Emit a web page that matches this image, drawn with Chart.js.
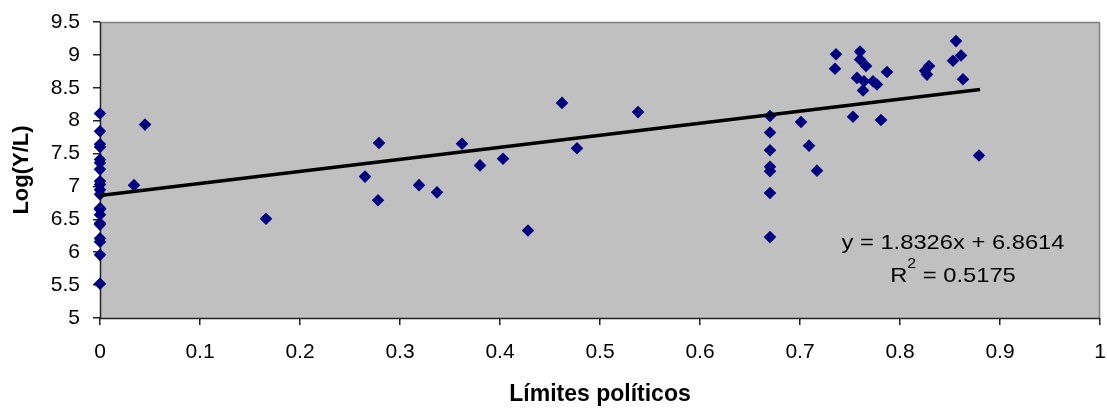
<!DOCTYPE html>
<html>
<head>
<meta charset="utf-8">
<script src="https://cdn.jsdelivr.net/npm/chart.js@4/dist/chart.umd.min.js"></script>
<style>
  html, body { margin: 0; padding: 0; background: #ffffff; }
  #wrap { width: 1107px; height: 409px; position: relative; }
</style>
</head>
<body>
<div id="wrap"><canvas id="c" width="1107" height="409"></canvas></div>
<script>
// ---- data ----
const xValues = [
  0, 0, 0, 0, 0, 0, 0, 0, 0, 0, 0, 0, 0, 0, 0, 0, 0, 0, 0, 0,
  0.034, 0.045, 0.166, 0.265, 0.279, 0.278, 0.319, 0.337, 0.362, 0.380,
  0.403, 0.428, 0.462, 0.477, 0.538,
  0.67, 0.67, 0.67, 0.67, 0.67, 0.67, 0.67,
  0.701, 0.709, 0.717, 0.736, 0.735, 0.753, 0.760, 0.760, 0.766, 0.757,
  0.764, 0.763, 0.773, 0.777, 0.781, 0.787, 0.825, 0.827, 0.829, 0.856,
  0.853, 0.861, 0.863, 0.879
];
const yValues = [
  8.11, 7.84, 7.64, 7.60, 7.41, 7.36, 7.26, 7.08, 7.03, 6.95,
  6.88, 6.67, 6.65, 6.57, 6.44, 6.42, 6.21, 6.16, 5.96, 5.52,
  7.02, 7.94, 6.51, 7.15, 7.66, 6.79, 7.02, 6.91, 7.65, 7.32,
  7.42, 6.33, 8.27, 7.58, 8.13,
  8.07, 7.82, 7.55, 7.30, 7.23, 6.90, 6.23,
  7.98, 7.62, 7.24, 9.01, 8.79, 8.06, 9.05, 8.93, 8.83, 8.65,
  8.60, 8.46, 8.60, 8.55, 8.01, 8.74, 8.76, 8.70, 8.83, 9.21,
  8.91, 8.99, 8.63, 7.47
];
const trendX = [0, 0.88];
const trendY = [6.8614, 8.4741];
const xTickLabels = ['0', '0.1', '0.2', '0.3', '0.4', '0.5', '0.6', '0.7', '0.8', '0.9', '1'];
const yTickLabels = ['5', '5.5', '6', '6.5', '7', '7.5', '8', '8.5', '9', '9.5'];
const equationText = 'y = 1.8326x + 6.8614';
const r2Prefix = 'R';
const r2Sup = '2';
const r2Value = ' = 0.5175';
const xTitle = 'Límites políticos';
const yTitle = 'Log(Y/L)';

const FONT = 'Arial, "Liberation Sans", sans-serif';

const points = xValues.map((x, i) => ({ x: x, y: yValues[i] }));
const trend = trendX.map((x, i) => ({ x: x, y: trendY[i] }));

const plotBg = {
  id: 'plotBg',
  beforeDatasetsDraw(chart) {
    const { ctx, chartArea: a } = chart;
    ctx.save();
    ctx.fillStyle = '#C0C0C0';
    ctx.fillRect(a.left, a.top, a.right - a.left, a.bottom - a.top);
    ctx.strokeStyle = '#808080';
    ctx.lineWidth = 1.5;
    ctx.beginPath();
    ctx.moveTo(a.left, a.top + 0.5);
    ctx.lineTo(a.right - 0.5, a.top + 0.5);
    ctx.lineTo(a.right - 0.5, a.bottom);
    ctx.stroke();
    ctx.strokeStyle = '#222222';
    ctx.lineWidth = 1.5;
    ctx.beginPath();
    ctx.moveTo(a.left + 0.5, a.top);
    ctx.lineTo(a.left + 0.5, a.bottom + 0.5);
    ctx.lineTo(a.right, a.bottom + 0.5);
    ctx.stroke();
    ctx.restore();
  }
};

const eqLabel = {
  id: 'eqLabel',
  afterDatasetsDraw(chart) {
    const { ctx } = chart;
    const cx = 953;
    const sx = 1.13;
    ctx.save();
    ctx.fillStyle = '#000000';
    ctx.textBaseline = 'middle';
    ctx.translate(cx, 0);
    ctx.scale(sx, 1);
    ctx.font = '21px ' + FONT;
    ctx.textAlign = 'center';
    ctx.fillText(equationText, 0, 243);
    const wR = ctx.measureText(r2Prefix).width;
    const wV = ctx.measureText(r2Value).width;
    ctx.font = '14px ' + FONT;
    const wS = ctx.measureText(r2Sup).width;
    const total = wR + wS + wV;
    const x0 = -total / 2;
    ctx.textAlign = 'left';
    ctx.font = '21px ' + FONT;
    ctx.fillText(r2Prefix, x0, 276);
    ctx.font = '14px ' + FONT;
    ctx.fillText(r2Sup, x0 + wR, 264);
    ctx.font = '21px ' + FONT;
    ctx.fillText(r2Value, x0 + wR + wS, 276);
    ctx.restore();
  }
};

function zeroPad(scale) {
  scale.paddingLeft = 0;
  scale.paddingRight = 0;
  scale.paddingTop = 0;
  scale.paddingBottom = 0;
}

new Chart(document.getElementById('c'), {
  type: 'scatter',
  data: {
    datasets: [
      {
        type: 'line',
        data: trend,
        borderColor: '#000000',
        borderWidth: 3.5,
        pointRadius: 0,
        showLine: true,
        fill: false,
        clip: false,
        order: 0
      },
      {
        data: points,
        pointStyle: 'rectRot',
        pointRadius: 6.3,
        pointHoverRadius: 6.3,
        backgroundColor: '#000080',
        borderColor: '#000080',
        borderWidth: 0,
        clip: false,
        order: 1
      }
    ]
  },
  plugins: [plotBg, eqLabel],
  options: {
    responsive: false,
    animation: false,
    devicePixelRatio: 1,
    layout: { padding: { left: 0, right: 7, top: 22, bottom: 0 } },
    plugins: { legend: { display: false }, tooltip: { enabled: false } },
    scales: {
      x: {
        type: 'linear',
        min: 0, max: 1,
        afterFit(scale) { scale.height = 91; zeroPad(scale); },
        afterBuildTicks(scale) {
          scale.ticks = xTickLabels.map((t, i) => ({ value: i / 10 }));
        },
        ticks: {
          autoSkip: false,
          maxRotation: 0,
          color: '#000000',
          font: { family: FONT, size: 21 },
          padding: 15,
          callback: (v, i) => xTickLabels[i]
        },
        grid: { drawOnChartArea: false, drawTicks: true, tickLength: 7, color: '#222222', lineWidth: 1.5 },
        border: { display: false },
        title: {
          display: true, text: xTitle, color: '#000000',
          font: { family: FONT, size: 23, weight: 'bold' },
          padding: { top: 0, bottom: 1 }
        }
      },
      y: {
        type: 'linear',
        min: 5, max: 9.5,
        afterFit(scale) { scale.width = 100; zeroPad(scale); },
        afterBuildTicks(scale) {
          scale.ticks = yTickLabels.map((t, i) => ({ value: 5 + i * 0.5 }));
        },
        ticks: {
          autoSkip: false,
          color: '#000000',
          font: { family: FONT, size: 21 },
          padding: 13,
          callback: (v, i) => yTickLabels[i]
        },
        grid: { drawOnChartArea: false, drawTicks: true, tickLength: 7, color: '#222222', lineWidth: 1.5 },
        border: { display: false },
        title: {
          display: true, text: yTitle, color: '#000000',
          font: { family: FONT, size: 22, weight: 'bold' },
          padding: { top: 9, bottom: 0 }
        }
      }
    }
  }
});
</script>
</body>
</html>
